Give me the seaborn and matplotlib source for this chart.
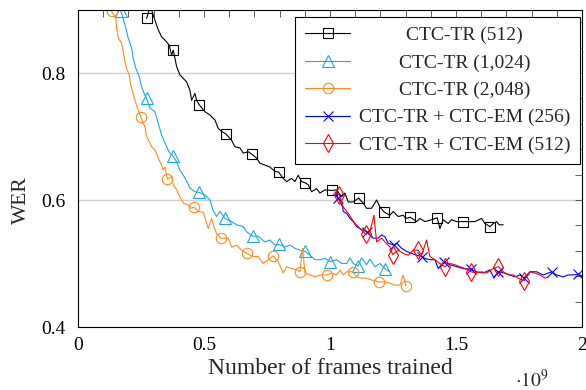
import matplotlib
matplotlib.use("Agg")
import matplotlib.pyplot as plt
import seaborn as sns
from matplotlib.ticker import MultipleLocator

# ------------------------------------------------------------
# data (x in units of 1e9 frames)
# ------------------------------------------------------------
tr512_x = [0.2726, 0.2877, 0.3056, 0.3187, 0.3321, 0.3452, 0.3623, 0.3718, 0.3782, 0.3917,
           0.4048, 0.4313, 0.4444, 0.4512, 0.4643, 0.4710, 0.4813, 0.5040, 0.5238, 0.5437,
           0.5567, 0.5702, 0.5873, 0.6099, 0.6230, 0.6429, 0.6560, 0.6758, 0.6905, 0.7091,
           0.7222, 0.7421, 0.7619, 0.7817, 0.7964, 0.8147, 0.8282, 0.8480, 0.8611, 0.8742,
           0.8877, 0.9020, 0.9139, 0.9274, 0.9472, 0.9603, 0.9802, 1.0079, 1.0266, 1.0464,
           1.0595, 1.0726, 1.0925, 1.1139, 1.1321, 1.1456, 1.1655, 1.1853, 1.1984, 1.2155,
           1.2381, 1.2512, 1.2710, 1.2909, 1.3016, 1.3187, 1.3440, 1.3571, 1.3770, 1.4036,
           1.4258, 1.4365, 1.4496, 1.4694, 1.4829, 1.5028, 1.5290, 1.5488, 1.5754, 1.6020,
           1.6151, 1.6361, 1.6480, 1.6615, 1.6718, 1.6877]
tr512_wer = [0.886, 0.905, 0.883, 0.868, 0.857, 0.852, 0.844, 0.828, 0.836, 0.810,
             0.797, 0.786, 0.773, 0.757, 0.768, 0.757, 0.750, 0.739, 0.734, 0.726,
             0.713, 0.708, 0.704, 0.694, 0.684, 0.682, 0.674, 0.676, 0.672, 0.666,
             0.658, 0.655, 0.652, 0.645, 0.644, 0.634, 0.629, 0.634, 0.629, 0.639,
             0.629, 0.627, 0.624, 0.613, 0.618, 0.611, 0.616, 0.615, 0.616, 0.605,
             0.611, 0.597, 0.597, 0.603, 0.595, 0.587, 0.587, 0.600, 0.589, 0.581,
             0.576, 0.582, 0.574, 0.576, 0.571, 0.573, 0.566, 0.571, 0.566, 0.569,
             0.572, 0.555, 0.569, 0.563, 0.569, 0.566, 0.566, 0.566, 0.566, 0.571,
             0.563, 0.558, 0.563, 0.566, 0.561, 0.561]

tr1024_x = [0.1694, 0.1798, 0.1905, 0.1996, 0.2131, 0.2194, 0.2302, 0.2433, 0.2528, 0.2659,
            0.2726, 0.2857, 0.3056, 0.3187, 0.3321, 0.3452, 0.3611, 0.3782, 0.3917, 0.4048,
            0.4246, 0.4444, 0.4643, 0.4813, 0.5040, 0.5238, 0.5357, 0.5496, 0.5635, 0.5833,
            0.6099, 0.6298, 0.6560, 0.6694, 0.6933, 0.7155, 0.7421, 0.7619, 0.7817, 0.7976,
            0.8214, 0.8413, 0.8611, 0.8810, 0.9020, 0.9206, 0.9405, 0.9603, 0.9802, 1.0020,
            1.0266, 1.0464, 1.0663, 1.0794, 1.0925, 1.1123, 1.1258, 1.1456, 1.1587, 1.1786,
            1.1984, 1.2194, 1.2353]
tr1024_wer = [0.898, 0.886, 0.870, 0.855, 0.839, 0.823, 0.807, 0.794, 0.778, 0.765,
              0.760, 0.745, 0.739, 0.721, 0.702, 0.690, 0.676, 0.669, 0.660, 0.647,
              0.635, 0.619, 0.613, 0.612, 0.608, 0.600, 0.584, 0.574, 0.582, 0.571,
              0.566, 0.561, 0.558, 0.550, 0.543, 0.543, 0.534, 0.537, 0.529, 0.530,
              0.526, 0.529, 0.524, 0.521, 0.519, 0.513, 0.506, 0.506, 0.508, 0.503,
              0.506, 0.500, 0.500, 0.509, 0.500, 0.496, 0.509, 0.498, 0.507, 0.495,
              0.500, 0.492, 0.487]

tr2048_x = [0.1337, 0.1508, 0.1536, 0.1599, 0.1734, 0.1798, 0.1865, 0.1933, 0.2036, 0.2091,
            0.2171, 0.2262, 0.2361, 0.2500, 0.2659, 0.2726, 0.2925, 0.3056, 0.3187, 0.3321,
            0.3385, 0.3452, 0.3544, 0.3718, 0.3782, 0.3917, 0.4048, 0.4179, 0.4377, 0.4512,
            0.4603, 0.4774, 0.4972, 0.5171, 0.5306, 0.5437, 0.5516, 0.5663, 0.5964, 0.6099,
            0.6298, 0.6496, 0.6694, 0.6956, 0.7155, 0.7353, 0.7552, 0.7750, 0.7948, 0.8147,
            0.8282, 0.8480, 0.8679, 0.8810, 0.8917, 0.9008, 0.9206, 0.9405, 0.9603, 0.9869,
            1.0067, 1.0266, 1.0397, 1.0528, 1.0663, 1.0901, 1.1060, 1.1258, 1.1456, 1.1655,
            1.1956, 1.2183, 1.2381, 1.2579, 1.2778, 1.2909, 1.3016]
tr2048_wer = [0.897, 0.886, 0.870, 0.855, 0.847, 0.834, 0.818, 0.807, 0.797, 0.781,
              0.771, 0.757, 0.745, 0.730, 0.715, 0.700, 0.684, 0.679, 0.666, 0.655,
              0.647, 0.652, 0.633, 0.637, 0.624, 0.616, 0.605, 0.595, 0.592, 0.587,
              0.589, 0.582, 0.581, 0.555, 0.571, 0.553, 0.546, 0.540, 0.540, 0.526,
              0.529, 0.521, 0.516, 0.511, 0.511, 0.500, 0.506, 0.512, 0.503, 0.485,
              0.495, 0.492, 0.490, 0.487, 0.524, 0.485, 0.482, 0.479, 0.482, 0.482,
              0.485, 0.482, 0.490, 0.482, 0.487, 0.487, 0.479, 0.477, 0.477, 0.474,
              0.471, 0.471, 0.469, 0.466, 0.466, 0.482, 0.465]

em256_x = [1.0198, 1.0330, 1.0504, 1.0528, 1.0663, 1.0794, 1.0925, 1.1060, 1.1190, 1.1456,
           1.1587, 1.1718, 1.1917, 1.2052, 1.2183, 1.2313, 1.2540, 1.2647, 1.2845, 1.3044,
           1.3242, 1.3440, 1.3639, 1.3770, 1.3968, 1.4167, 1.4298, 1.4524, 1.4762, 1.5028,
           1.5290, 1.5595, 1.5821, 1.6083, 1.6349, 1.6508, 1.6667, 1.6944, 1.7143, 1.7341,
           1.7540, 1.7698, 1.7937, 1.8202, 1.8464, 1.8798, 1.8996, 1.9258, 1.9456, 1.9655,
           1.9853, 2.0028]
em256_wer = [0.613, 0.603, 0.589, 0.582, 0.579, 0.571, 0.566, 0.558, 0.555, 0.550,
             0.545, 0.540, 0.540, 0.545, 0.542, 0.532, 0.529, 0.532, 0.524, 0.519,
             0.516, 0.513, 0.511, 0.508, 0.506, 0.506, 0.492, 0.503, 0.498, 0.495,
             0.492, 0.491, 0.487, 0.485, 0.490, 0.477, 0.487, 0.485, 0.482, 0.479,
             0.482, 0.477, 0.487, 0.487, 0.482, 0.487, 0.482, 0.479, 0.482, 0.482,
             0.483, 0.480]

em512_x = [1.0238, 1.0369, 1.0464, 1.0528, 1.0726, 1.0861, 1.0992, 1.1123, 1.1321, 1.1429,
           1.1587, 1.1746, 1.1853, 1.2052, 1.2183, 1.2381, 1.2488, 1.2710, 1.2909, 1.3107,
           1.3306, 1.3504, 1.3639, 1.3837, 1.3968, 1.4167, 1.4365, 1.4563, 1.4762, 1.4960,
           1.5159, 1.5357, 1.5595, 1.5821, 1.6020, 1.6218, 1.6480, 1.6679, 1.6877, 1.7075,
           1.7274, 1.7472, 1.7710, 1.7937, 1.8135, 1.8333, 1.8532, 1.8663]
em512_wer = [0.611, 0.608, 0.597, 0.589, 0.579, 0.571, 0.563, 0.558, 0.550, 0.546,
             0.550, 0.576, 0.534, 0.540, 0.534, 0.526, 0.514, 0.521, 0.516, 0.513,
             0.521, 0.521, 0.513, 0.537, 0.511, 0.506, 0.500, 0.495, 0.500, 0.498,
             0.495, 0.492, 0.487, 0.485, 0.487, 0.485, 0.492, 0.495, 0.487, 0.482,
             0.482, 0.477, 0.473, 0.487, 0.485, 0.482, 0.477, 0.479]

labels = ["CTC-TR (512)", "CTC-TR (1,024)", "CTC-TR (2,048)",
          "CTC-TR + CTC-EM (256)", "CTC-TR + CTC-EM (512)"]
x_ticks = [0, 0.5, 1, 1.5, 2]
x_tick_labels = ["0", "0.5", "1", "1.5", "2"]
y_ticks = [0.4, 0.6, 0.8]

# ------------------------------------------------------------
# styling
# ------------------------------------------------------------
sns.set_style("white")
plt.rcParams["font.family"] = ["Liberation Serif", "DejaVu Serif"]
plt.rcParams["mathtext.fontset"] = "stix"

fig = plt.figure(figsize=(5.86, 3.9), dpi=100)
ax = fig.add_axes([0.133, 0.1615, 0.860, 0.8141])

series = [
    (tr512_x, tr512_wer, "black", "s", 7, [0, 8, 16, 22, 28, 34, 41, 47, 53, 59, 65, 70, 76, 81]),
    (tr1024_x, tr1024_wer, "#1ea7e1", "^", 8, [0, 10, 17, 23, 29, 34, 39, 44, 49, 55, 61]),
    (tr2048_x, tr2048_wer, "#ff8c1a", "o", 7.5, [0, 13, 22, 30, 37, 42, 47, 53, 59, 65, 70, 76]),
    (em256_x, em256_wer, "#0000ff", "x", 7, [1, 9, 16, 22, 27, 31, 36, 41, 45, 50]),
    (em512_x, em512_wer, "#ff0000", "d", 9, [1, 9, 16, 21, 27, 32, 37, 42]),
]

for (xs, ys, col, mk, ms, every), lab in zip(series, labels):
    sns.lineplot(x=xs, y=ys, ax=ax, color=col, lw=0.8, marker=mk, markersize=ms,
                 markevery=every, markerfacecolor="none", markeredgecolor=col,
                 markeredgewidth=0.8, label=lab, sort=False, estimator=None)

ax.set_xlim(0, 2)
ax.set_ylim(0.4, 0.9)
ax.set_xticks(x_ticks)
ax.set_xticklabels(x_tick_labels)
ax.set_yticks(y_ticks)
ax.xaxis.set_minor_locator(MultipleLocator(0.1))
ax.yaxis.set_minor_locator(MultipleLocator(0.04))
ax.tick_params(which="both", direction="in", top=True, right=True, colors="#444444",
               labelcolor="black", labelsize=14, width=0.6, length=5)
ax.tick_params(axis="y", pad=9)
ax.tick_params(axis="x", pad=7)
ax.grid(axis="y", which="major", color="#d0d0d0", lw=1)
ax.set_axisbelow(True)
for sp in ax.spines.values():
    sp.set_color("black")
    sp.set_linewidth(0.8)

ax.set_xlabel("Number of frames trained", fontsize=17, labelpad=3)
ax.set_ylabel("WER", fontsize=15.5)
ax.yaxis.set_label_coords(-0.094, 0.40)
fig.text(0.878, 0.008, r"$\cdot 10^{9}$", fontsize=14)

h, l = ax.get_legend_handles_labels()
leg = ax.legend(h, l, loc="upper right", bbox_to_anchor=(0.996, 0.977), borderaxespad=0,
                fontsize=14, frameon=True, fancybox=False, edgecolor="black",
                framealpha=1, handlelength=2.3, handletextpad=0.45, labelspacing=0.5,
                borderpad=0.5)
leg.get_frame().set_linewidth(0.8)

# centre the legend texts like the original
fig.canvas.draw()
texts = leg.get_texts()
widths = [t.get_window_extent().width for t in texts]
mw = max(widths)
for t, w in zip(texts, widths):
    t.set_position(((mw - w) / 2, 0))

fig.savefig("out.png", dpi=100)
